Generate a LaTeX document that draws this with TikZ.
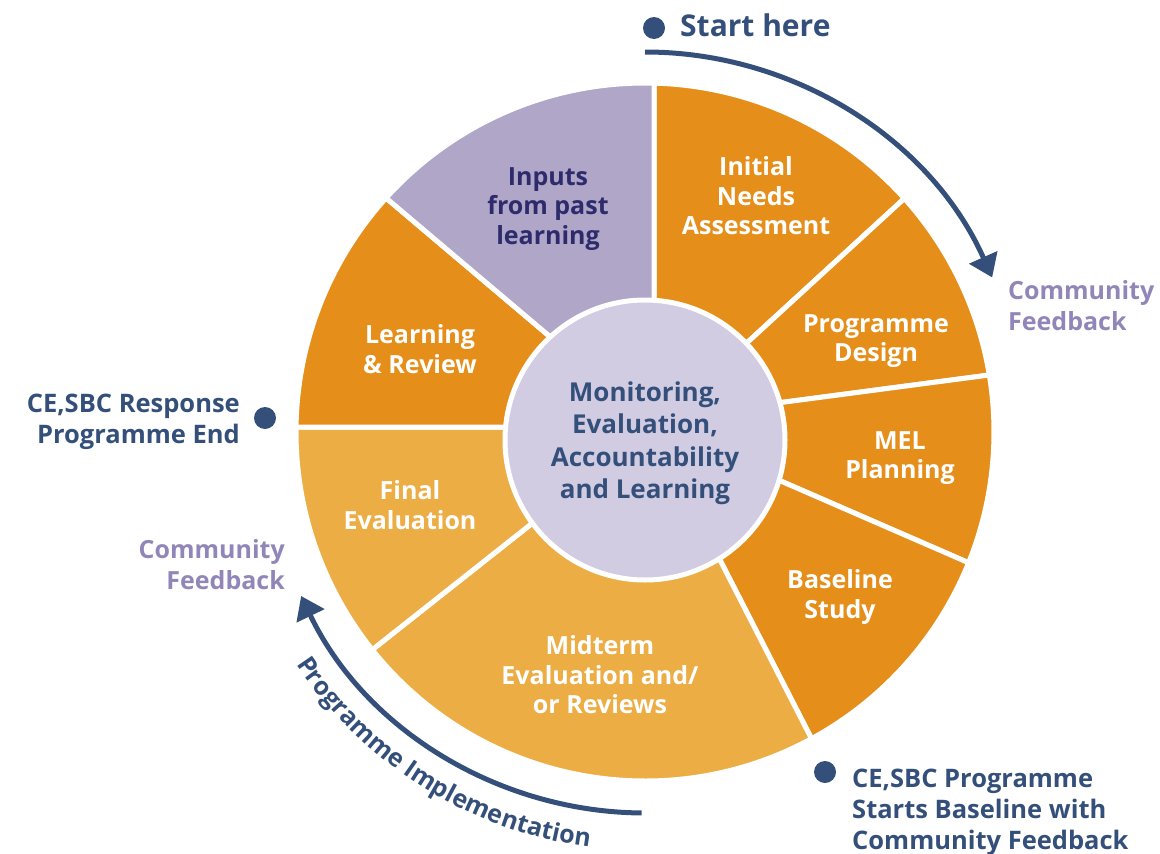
\documentclass[tikz,border=0pt]{standalone}
\usepackage{fontspec}
\setmainfont{Open Sans}
\usetikzlibrary{arrows.meta,calc,decorations.text}
\definecolor{navy}{HTML}{34507A}
\definecolor{indigo}{HTML}{2D2B6B}
\definecolor{darkorange}{HTML}{E58E1A}
\definecolor{lightorange}{HTML}{ECAD45}
\definecolor{lilac}{HTML}{B0A6C8}
\definecolor{innerlilac}{HTML}{D1CCE2}
\definecolor{feedback}{HTML}{9286B8}
\tikzset{
  seg/.style={draw=white, line width=5pt, line join=round},
  seglabel/.style={align=center, text=white, inner sep=0pt, font=\bfseries\fontsize{25}{29.5}\selectfont},
  sidelabel/.style={inner sep=0pt, text=navy, font=\bfseries\fontsize{25.5}{31}\selectfont},
  fblabel/.style={inner sep=0pt, text=feedback, font=\bfseries\fontsize{25}{31}\selectfont},
  dot/.style={circle, fill=navy, inner sep=0pt, minimum size=22pt},
  flow/.style={draw=navy, line width=5pt, -{Triangle[length=22pt,width=30pt]}}
}
\begin{document}
\begin{tikzpicture}[x=1pt,y=1pt]
\useasboundingbox (0,0) rectangle (1160,-854);
\coordinate (C) at (645,-432);
\def\R{349}
% boundary outer points
\coordinate (O1) at ($(C)+(88.5:\R)$);
\coordinate (O2) at ($(C)+(42:\R)$);
\coordinate (O3) at ($(C)+(9.4:\R)$);
\coordinate (O4) at ($(C)+(-22:\R)$);
\coordinate (O5) at ($(C)+(-61.5:\R)$);
\coordinate (O6) at ($(C)+(-141.4:\R)$);
\coordinate (O7) at ($(C)+(179.2:\R)$);
\coordinate (O8) at ($(C)+(137.9:\R)$);
% boundary inner points
\coordinate (I1) at (654,-300);
\coordinate (I2) at (750,-340);
\coordinate (I3) at (785,-402);
\coordinate (I4) at (783,-482);
\coordinate (I5) at (720,-560);
\coordinate (I6) at (530,-525);
\coordinate (I7) at (507,-427);
\coordinate (I8) at (548,-335);
\foreach \i in {1,...,8}{\coordinate (E\i) at ($(O\i)!1.3!(I\i)$);}
% segments
\filldraw[seg, fill=darkorange] (E1) -- (O1) arc[start angle=88.5, end angle=42, radius=\R] -- (E2) -- cycle;
\filldraw[seg, fill=darkorange] (E2) -- (O2) arc[start angle=42, end angle=9.4, radius=\R] -- (E3) -- cycle;
\filldraw[seg, fill=darkorange] (E3) -- (O3) arc[start angle=9.4, end angle=-22, radius=\R] -- (E4) -- cycle;
\filldraw[seg, fill=darkorange] (E4) -- (O4) arc[start angle=-22, end angle=-61.5, radius=\R] -- (E5) -- cycle;
\filldraw[seg, fill=lightorange] (E5) -- (O5) arc[start angle=-61.5, end angle=-141.4, radius=\R] -- (E6) -- cycle;
\filldraw[seg, fill=lightorange] (E6) -- (O6) arc[start angle=218.6, end angle=179.2, radius=\R] -- (E7) -- cycle;
\filldraw[seg, fill=darkorange] (E7) -- (O7) arc[start angle=179.2, end angle=137.9, radius=\R] -- (E8) -- cycle;
\filldraw[seg, fill=lilac] (E8) -- (O8) arc[start angle=137.9, end angle=88.5, radius=\R] -- (E1) -- cycle;
% centre
\node[circle, fill=innerlilac, draw=white, line width=5pt, minimum size=280pt, align=center, text=navy, inner sep=0pt,
  font=\bfseries\fontsize{26}{32.5}\selectfont] (mel) at (645,-440) {};
\node[align=center, text=navy, inner sep=0pt, font=\bfseries\fontsize{26}{32.5}\selectfont] (meltext) at (645,-443)
  {Monitoring,\\Evaluation,\\Accountability\\and Learning};
% segment labels
\node[seglabel, text=indigo] (inputs) at (548,-209) {Inputs\\from past\\learning};
\node[seglabel] (ina) at (756,-196) {Initial\\Needs\\Assessment};
\node[seglabel] (pd) at (876,-341) {Programme\\Design};
\node[seglabel] (melp) at (900,-458) {MEL\\Planning};
\node[seglabel] (bs) at (840,-597) {Baseline\\Study};
\node[seglabel] (mt) at (600,-675) {Midterm\\Evaluation and/\\or Reviews};
\node[seglabel] (fe) at (410,-505) {Final\\Evaluation};
\node[seglabel] (lr) at (420,-349) {Learning\\\& Review};
% arrows
\coordinate (a1s) at ($(C)+(90:380)$);
\coordinate (a2s) at ($(C)+(-90.5:381)$);
\draw[flow] (a1s) arc[start angle=90, end angle=24, radius=380];
\draw[flow] (a2s) arc[start angle=-90.5, end angle=-154.5, radius=381];
\path[decorate, decoration={text along path, text align=center,
  text={|\color{navy}\bfseries\fontsize{25}{25}\selectfont|Programme Implementation}}]
  ($(C)+(212:419)$) arc[start angle=212, end angle=264, radius=419];
% dots and side labels
\node[dot] (d1) at (654,-28) {};
\node[sidelabel, anchor=base west, font=\bfseries\fontsize{30}{31}\selectfont] (start) at (680,-36) {Start here};
\node[dot] (d2) at (265,-418) {};
\node[sidelabel, anchor=north east, align=right] (end) at (240,-394) {CE,SBC Response\\Programme End};
\node[dot] (d3) at (825,-772) {};
\node[sidelabel, anchor=north west, align=left] (begin) at (852,-769) {CE,SBC Programme\\Starts Baseline with\\Community Feedback};
\node[fblabel, anchor=north west, align=left] (fb1) at (1008,-280) {Community\\Feedback};
\node[fblabel, anchor=north east, align=right] (fb2) at (285,-539) {Community\\Feedback};
\end{tikzpicture}
\end{document}
